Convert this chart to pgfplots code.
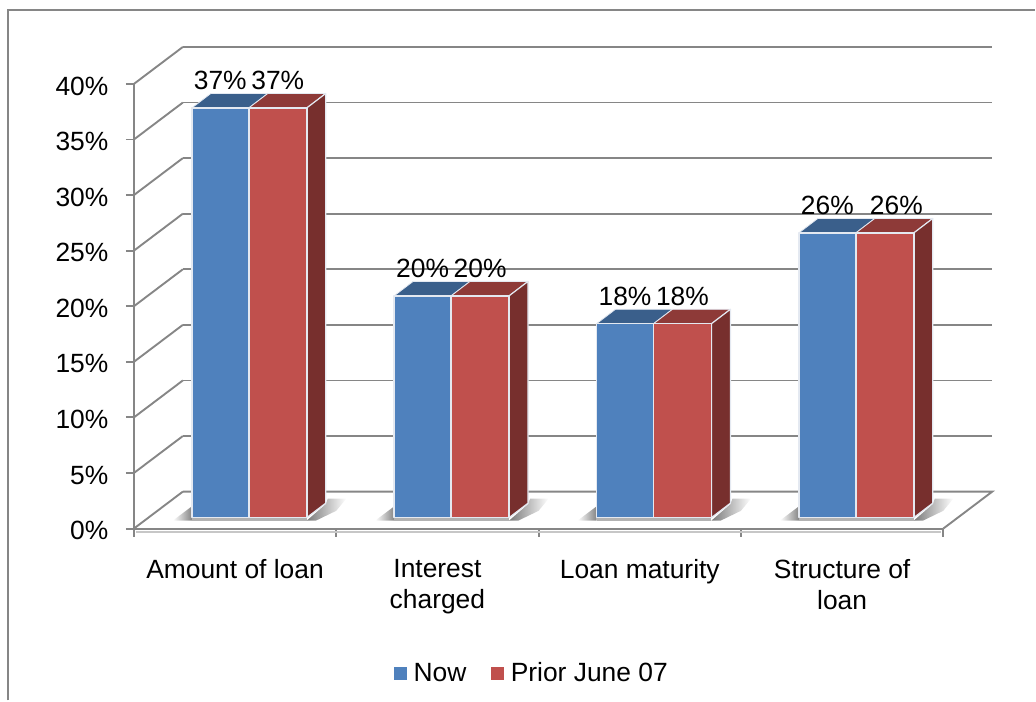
\documentclass[border=0pt]{standalone}
\usepackage{fontspec}
\setmainfont{Liberation Sans}
\usepackage{pgfplots}
\pgfplotsset{compat=1.18}
\usepackage{pgfplotstable}
\definecolor{gridc}{HTML}{868686}
\definecolor{bluef}{HTML}{4F81BD}
\definecolor{redf}{HTML}{C0504D}
\definecolor{bluet}{HTML}{3A5F8B}
\definecolor{redt}{HTML}{8E3A38}
\definecolor{reds}{HTML}{772F2D}
\definecolor{edge}{HTML}{E4E9F1}
\newcommand\chartfont{\fontsize{26.4}{31}\selectfont}
% wall line at a given percent
\newcommand\wall[1]{%
  \addplot[forget plot,gridc,line width=1.9pt,line join=round] coordinates {(0,#1) (0.242,#1+3.326)};%
}
\newcommand\barpair[2]{%
  \pgfmathsetmacro\xa{#1+0.2864}%
  \pgfmathsetmacro\xb{#1+0.5679}%
  \pgfmathsetmacro\xc{#1+0.8543}%
  \pgfmathsetmacro\xat{\xa+0.0938}%
  \pgfmathsetmacro\xbt{\xb+0.0938}%
  \pgfmathsetmacro\xct{\xc+0.0938}%
  \pgfmathsetmacro\yb{0.99}%
  \pgfmathsetmacro\ybt{\yb+1.3}%
  \pgfmathsetmacro\yt{0.99+#2}%
  \pgfmathsetmacro\ytt{\yt+1.3}%
  \pgfmathsetmacro\sla{#1+0.1926}%
  \pgfmathsetmacro\slb{#1+0.2864}%
  \pgfmathsetmacro\sra{#1+0.8543}%
  \pgfmathsetmacro\srb{#1+1.0}%
  \pgfmathsetmacro\src{#1+1.05}%
  \addplot[forget plot,draw=none,left color=white,right color=black!48] coordinates {(\sla,0.72) (\slb,2.0) (\slb,0.72)} --cycle;
  \addplot[forget plot,draw=none,left color=black!52,right color=white] coordinates {(\sra,0.72) (\xct,2.2) (\xct+0.01,2.7) (\src,2.7) (\srb,1.6) (#1+0.9,0.72)} --cycle;
  \addplot[forget plot,draw=none,fill=black!30] coordinates {(\xa,0.99) (\xc,0.99) (\xc,0.65) (\xa,0.65)} --cycle;
  \addplot[forget plot,fill=bluet,draw=edge,line width=0.8pt,line join=round] coordinates {(\xa,\yt) (\xat,\ytt) (\xbt,\ytt) (\xb,\yt)} --cycle;
  \addplot[forget plot,fill=redt,draw=edge,line width=0.8pt,line join=round] coordinates {(\xb,\yt) (\xbt,\ytt) (\xct,\ytt) (\xc,\yt)} --cycle;
  \addplot[forget plot,fill=reds,draw=edge,line width=1.2pt,line join=round] coordinates {(\xc,\yb) (\xct,\ybt) (\xct,\ytt) (\xc,\yt)} --cycle;
  \addplot[forget plot,fill=bluef,draw=edge,line width=1.5pt,line join=round] coordinates {(\xa,\yb) (\xb,\yb) (\xb,\yt) (\xa,\yt)} --cycle;
  \addplot[forget plot,fill=redf,draw=edge,line width=1.5pt,line join=round] coordinates {(\xb,\yb) (\xc,\yb) (\xc,\yt) (\xb,\yt)} --cycle;
}
\pgfplotstableread{
x v lab
0.427 36.85 37
0.711 36.85 37
1.427 19.95 20
1.711 19.95 20
2.427 17.44 18
2.711 17.44 18
3.427 25.61 26
3.768 25.61 26
}\labeltable
\begin{document}
\begin{tikzpicture}
\begin{axis}[
  scale only axis, width=810pt, height=445pt,
  xmin=0, xmax=4, ymin=0, ymax=40,
  clip=false,
  axis lines*=left,
  axis line style={gridc,line width=1.9pt,-},
  tick align=outside,
  tick style={gridc,line width=1.9pt},
  major tick length=8pt, minor tick length=8pt,
  major x tick style={draw=none},
  xtick={0.5,1.5,2.5,3.5},
  minor xtick={0,1,2,3,4},
  xticklabels={Amount of loan,Interest\\charged,Loan maturity,Structure of\\loan},
  ytick={0,5,...,40},
  yticklabels={0\%,5\%,10\%,15\%,20\%,25\%,30\%,35\%,40\%},
  tick label style={font=\chartfont,text=black},
  xticklabel style={align=center,anchor=north,yshift=-19pt},
  yticklabel style={anchor=east,xshift=-14pt,yshift=-2pt},
  legend columns=2,
  legend style={at={(0.4919,-0.325)},anchor=center,draw=none,fill=none,font=\chartfont,
    /tikz/every odd column/.append style={column sep=5pt},
    /tikz/every even column/.append style={column sep=23pt}},
  legend image code/.code={\fill[#1] (0pt,-6pt) rectangle (12pt,6pt);},
]
\addlegendimage{bluef}
\addlegendimage{redf}
\legend{Now,Prior June 07}
% chart frame (partial) and page extent
\path (axis cs:-0.6617,-15.46) rectangle (axis cs:4.4543,47.55);
\draw[gridc,line width=1.6pt] (axis cs:-0.6222,-15.46) -- (axis cs:-0.6222,46.65) -- (axis cs:4.4543,46.65);
% floor shadow of the front edge
\addplot[forget plot,black!22,line width=2pt] coordinates {(0.01,-0.35) (3.99,-0.35)};
% walls and floor
\wall{0}\wall{5}\wall{10}\wall{15}\wall{20}\wall{25}\wall{30}\wall{35}\wall{40}
\addplot[forget plot,gridc,line width=1.9pt] coordinates {(0.242,3.326) (4.242,3.326) (4,0)};
\addplot[forget plot,gridc,line width=1.9pt] coordinates {(0.242,8.326) (4.242,8.326)};
\addplot[forget plot,gridc,line width=1.9pt] coordinates {(0.242,13.326) (4.242,13.326)};
\addplot[forget plot,gridc,line width=1.9pt] coordinates {(0.242,18.326) (4.242,18.326)};
\addplot[forget plot,gridc,line width=1.9pt] coordinates {(0.242,23.326) (4.242,23.326)};
\addplot[forget plot,gridc,line width=1.9pt] coordinates {(0.242,28.326) (4.242,28.326)};
\addplot[forget plot,gridc,line width=1.9pt] coordinates {(0.242,33.326) (4.242,33.326)};
\addplot[forget plot,gridc,line width=1.9pt] coordinates {(0.242,38.326) (4.242,38.326)};
\addplot[forget plot,gridc,line width=1.9pt] coordinates {(0.242,43.326) (4.242,43.326)};
% bars
\barpair{0}{36.85}
\barpair{1}{19.95}
\barpair{2}{17.44}
\barpair{3}{25.61}
% value labels
\addplot[forget plot,draw=none,mark=none,point meta=explicit symbolic,
  nodes near coords={\pgfplotspointmeta\%},
  nodes near coords style={font=\chartfont,text=black,anchor=base,yshift=18pt,inner sep=0pt}]
  table[x=x,y expr=\thisrow{v}+0.99,meta=lab] {\labeltable};
\end{axis}
\end{tikzpicture}
\end{document}
